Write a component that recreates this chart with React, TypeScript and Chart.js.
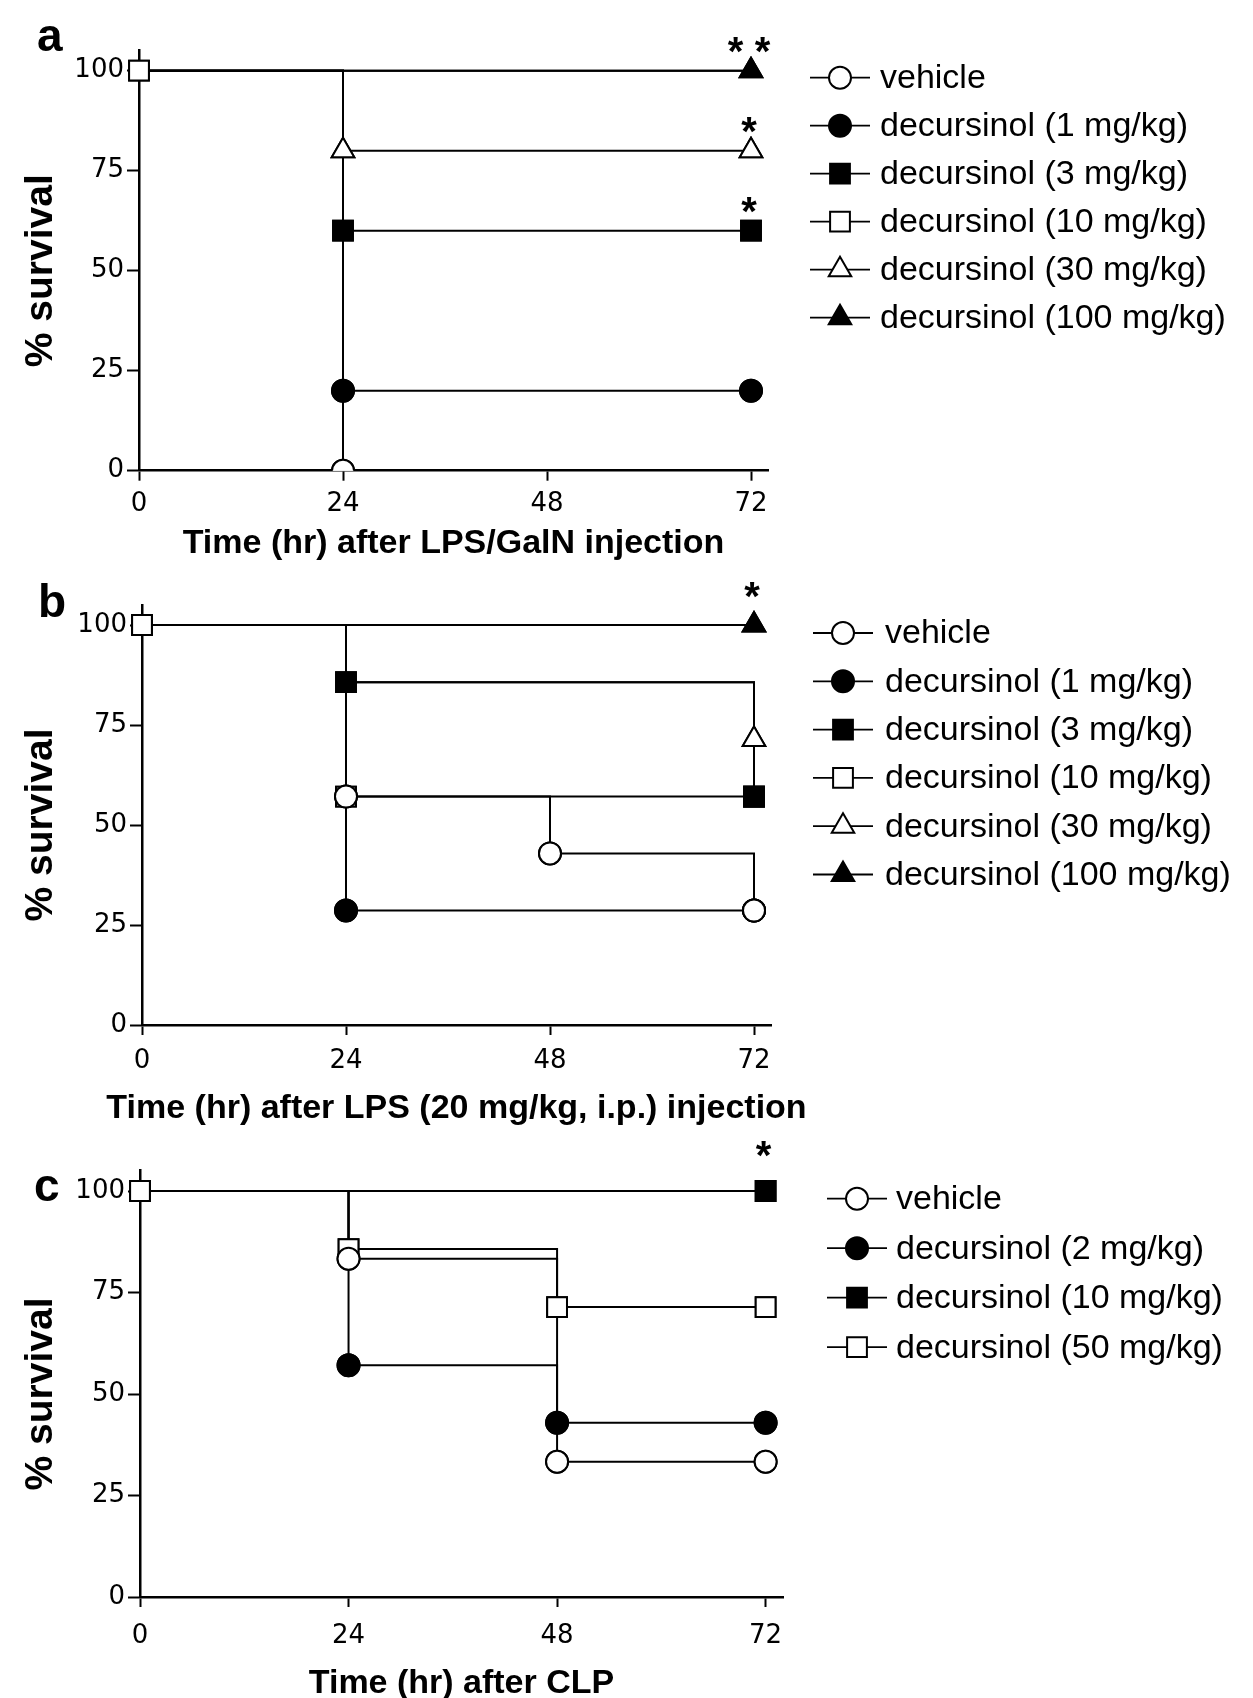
import React, { useEffect, useRef } from 'react';
import { Chart, registerables } from 'chart.js';

Chart.register(...registerables);

const FONT = '"Liberation Sans", Arial, Helvetica, sans-serif';
const TICK_FONT = '"DejaVu Sans", "Liberation Sans", Arial, sans-serif';

// ---------- shared axis data ----------
const TIME_TICKS = [0, 24, 48, 72];
const SURVIVAL_TICKS = [0, 25, 50, 75, 100];
const TIME_MAX = 74;
const SURVIVAL_MAX = 105;

// ---------- panel a : LPS/GalN ----------
const A_NAMES = [
  'vehicle',
  'decursinol (1 mg/kg)',
  'decursinol (3 mg/kg)',
  'decursinol (10 mg/kg)',
  'decursinol (30 mg/kg)',
  'decursinol (100 mg/kg)',
];
const A_VEHICLE = [[0, 100], [24, 0]];
const A_DEC1 = [[0, 100], [24, 20], [72, 20]];
const A_DEC3 = [[0, 100], [24, 60], [72, 60]];
const A_DEC10 = [[0, 100], [72, 100]];
const A_DEC30 = [[0, 100], [24, 80], [72, 80]];
const A_DEC100 = [[0, 100], [72, 100]];
const A_STARS: [number, number, string][] = [[72, 100, '**'], [72, 80, '*'], [72, 60, '*']];
// markers that are covered by another series' marker in the original
const A_HIDDEN: [number, number][] = [[3, 72]];

// ---------- panel b : LPS 20 mg/kg ----------
const B_NAMES = [
  'vehicle',
  'decursinol (1 mg/kg)',
  'decursinol (3 mg/kg)',
  'decursinol (10 mg/kg)',
  'decursinol (30 mg/kg)',
  'decursinol (100 mg/kg)',
];
const B_VEHICLE = [[0, 100], [24, 57.1], [48, 42.9], [72, 28.6]];
const B_DEC1 = [[0, 100], [24, 28.6], [72, 28.6]];
const B_DEC3 = [[0, 100], [24, 85.7], [72, 57.1]];
const B_DEC10 = [[0, 100], [24, 57.1], [72, 57.1]];
const B_DEC30 = [[0, 100], [24, 85.7], [72, 71.4]];
const B_DEC100 = [[0, 100], [72, 100]];
const B_STARS: [number, number, string][] = [[72, 100, '*']];
const B_HIDDEN: [number, number][] = [[4, 24]];

// ---------- panel c : CLP ----------
const C_NAMES = [
  'vehicle',
  'decursinol (2 mg/kg)',
  'decursinol (10 mg/kg)',
  'decursinol (50 mg/kg)',
];
const C_VEHICLE = [[0, 100], [24, 83.3], [48, 33.3], [72, 33.3]];
const C_DEC2 = [[0, 100], [24, 57.1], [48, 42.9], [72, 42.9]];
const C_DEC10 = [[0, 100], [72, 100]];
const C_DEC50 = [[0, 100], [24, 85.7], [48, 71.4], [72, 71.4]];
const C_STARS: [number, number, string][] = [[72, 100, '*']];
const C_HIDDEN: [number, number][] = [];

// ---------- marker styles ----------
type MarkerKey = 'openCircle' | 'filledCircle' | 'filledSquare' | 'openSquare' | 'openTriangle' | 'filledTriangle';
const MARKERS: Record<MarkerKey, { style: 'circle' | 'rect' | 'triangle'; fill: string; r: number }> = {
  openCircle: { style: 'circle', fill: '#ffffff', r: 11 },
  filledCircle: { style: 'circle', fill: '#000000', r: 11 },
  filledSquare: { style: 'rect', fill: '#000000', r: 14 },
  openSquare: { style: 'rect', fill: '#ffffff', r: 14 },
  openTriangle: { style: 'triangle', fill: '#ffffff', r: 13 },
  filledTriangle: { style: 'triangle', fill: '#000000', r: 13 },
};

interface PanelDef {
  letter: string;
  xTitle: string;
  names: string[];
  series: number[][][];
  markers: MarkerKey[];
  stack: number[];
  startMarker: number;
  hidden: [number, number][];
  stars: [number, number, string][];
  top: number;
  height: number;
  plotLeft: number;
  plotRight: number;
  plotTop: number;
  plotBottom: number;
  letterX: number;
  letterY: number;
  xTitleGap: number;
  xTickPad: number;
  starGap: number;
  legendDx: number;
  legendDy: number;
  legendStep: number;
  legendTextDx: number;
}

const PANELS: PanelDef[] = [
  {
    letter: 'a',
    xTitle: 'Time (hr) after LPS/GalN injection',
    names: A_NAMES,
    series: [A_VEHICLE, A_DEC1, A_DEC3, A_DEC10, A_DEC30, A_DEC100],
    markers: ['openCircle', 'filledCircle', 'filledSquare', 'openSquare', 'openTriangle', 'filledTriangle'],
    stack: [0, 1, 2, 5, 3, 4],
    startMarker: 3,
    hidden: A_HIDDEN,
    stars: A_STARS,
    top: 0,
    height: 565,
    plotLeft: 139,
    plotRight: 768,
    plotTop: 50.7,
    plotBottom: 470.7,
    letterX: 37,
    letterY: 51,
    xTitleGap: 73,
    xTickPad: 8,
    starGap: -29,
    legendDx: 42,
    legendDy: 27,
    legendStep: 48,
    legendTextDx: 70,
  },
  {
    letter: 'b',
    xTitle: 'Time (hr) after LPS (20 mg/kg, i.p.) injection',
    names: B_NAMES,
    series: [B_VEHICLE, B_DEC1, B_DEC3, B_DEC10, B_DEC30, B_DEC100],
    markers: ['openCircle', 'filledCircle', 'filledSquare', 'openSquare', 'openTriangle', 'filledTriangle'],
    stack: [0, 2, 1, 3, 4, 5],
    startMarker: 3,
    hidden: B_HIDDEN,
    stars: B_STARS,
    top: 565,
    height: 560,
    plotLeft: 142,
    plotRight: 771,
    plotTop: 40,
    plotBottom: 460,
    letterX: 38,
    letterY: 52,
    xTitleGap: 84,
    xTickPad: 11,
    starGap: -38,
    legendDx: 42,
    legendDy: 28,
    legendStep: 48.3,
    legendTextDx: 72,
  },
  {
    letter: 'c',
    xTitle: 'Time (hr) after CLP',
    names: C_NAMES,
    series: [C_VEHICLE, C_DEC2, C_DEC10, C_DEC50],
    markers: ['openCircle', 'filledCircle', 'filledSquare', 'openSquare'],
    stack: [0, 1, 2, 3],
    startMarker: 3,
    hidden: C_HIDDEN,
    stars: C_STARS,
    top: 1125,
    height: 573,
    plotLeft: 140,
    plotRight: 783,
    plotTop: 45.7,
    plotBottom: 472,
    letterX: 34,
    letterY: 76,
    xTitleGap: 87,
    xTickPad: 14,
    starGap: -45,
    legendDx: 44,
    legendDy: 28,
    legendStep: 49.5,
    legendTextDx: 69,
  },
];

function drawMarker(ctx: CanvasRenderingContext2D, key: MarkerKey, x: number, y: number) {
  const m = MARKERS[key];
  ctx.beginPath();
  if (m.style === 'circle') {
    ctx.arc(x, y, m.r, 0, Math.PI * 2);
  } else if (m.style === 'rect') {
    const h = m.r * Math.SQRT1_2;
    ctx.rect(x - h, y - h, 2 * h, 2 * h);
  } else {
    let rad = 0;
    ctx.moveTo(x + Math.sin(rad) * m.r, y - Math.cos(rad) * m.r);
    rad += (2 * Math.PI) / 3;
    ctx.lineTo(x + Math.sin(rad) * m.r, y - Math.cos(rad) * m.r);
    rad += (2 * Math.PI) / 3;
    ctx.lineTo(x + Math.sin(rad) * m.r, y - Math.cos(rad) * m.r);
    ctx.closePath();
  }
  ctx.fillStyle = m.fill;
  ctx.fill();
  ctx.lineWidth = 2;
  ctx.strokeStyle = '#000';
  ctx.stroke();
}

function PanelChart({ def }: { def: PanelDef }) {
  const ref = useRef<HTMLCanvasElement>(null);

  useEffect(() => {
    const canvas = ref.current;
    if (!canvas) return;

    const datasets = def.series.map((pts, i) => {
      const key = def.markers[i];
      const m = MARKERS[key];
      const showStart = i === def.startMarker;
      const hiddenTimes = def.hidden.filter(([s]) => s === i).map(([, t]) => t);
      const radius = (c: any) => {
        const idx = c.dataIndex;
        if (idx === 0 && !showStart) return 0;
        const p = pts[idx];
        if (p && hiddenTimes.includes(p[0])) return 0;
        return m.r;
      };
      return {
        label: def.names[i],
        data: pts.map(([t, s]) => ({ x: t, y: s })),
        stepped: 'before' as const,
        borderColor: '#000',
        borderWidth: 2,
        fill: false,
        tension: 0,
        pointStyle: m.style,
        pointBackgroundColor: m.fill,
        pointBorderColor: '#000',
        pointBorderWidth: 2,
        pointRadius: radius,
        pointHoverRadius: radius,
        order: def.stack[i],
        clip: { left: 40, top: 40, right: 40, bottom: 0 },
      };
    });

    const overlay = {
      id: 'overlay' + def.letter,
      afterDatasetsDraw(chart: any) {
        const ctx: CanvasRenderingContext2D = chart.ctx;
        const area = chart.chartArea;
        ctx.save();
        ctx.beginPath();
        ctx.rect(0, 0, chart.width, area.bottom);
        ctx.clip();
        const metas = chart.getSortedVisibleDatasetMetas();
        const big = { left: -1e5, top: -1e5, right: 1e5, bottom: 1e5 };
        for (let i = metas.length - 1; i >= 0; i--) {
          metas[i].data.forEach((el: any) => el.draw(ctx, big));
        }
        ctx.restore();
      },
      afterDraw(chart: any) {
        const ctx: CanvasRenderingContext2D = chart.ctx;
        const area = chart.chartArea;
        const xs = chart.scales.x;
        const ys = chart.scales.y;
        ctx.save();
        ctx.fillStyle = '#000';

        // panel letter
        ctx.font = `bold 46px ${FONT}`;
        ctx.textAlign = 'left';
        ctx.textBaseline = 'alphabetic';
        ctx.fillText(def.letter, def.letterX, def.letterY);

        // x title
        ctx.font = `bold 34px ${FONT}`;
        ctx.textAlign = 'center';
        ctx.textBaseline = 'middle';
        ctx.fillText(def.xTitle, (area.left + area.right) / 2, area.bottom + def.xTitleGap);

        // y title
        ctx.save();
        ctx.translate(41, ys.getPixelForValue(50));
        ctx.rotate(-Math.PI / 2);
        ctx.font = `bold 39px ${FONT}`;
        ctx.textAlign = 'center';
        ctx.textBaseline = 'middle';
        ctx.fillText('% survival', 0, 0);
        ctx.restore();

        // significance stars
        ctx.font = `bold 40px ${FONT}`;
        ctx.textAlign = 'center';
        ctx.textBaseline = 'alphabetic';
        def.stars.forEach(([t, s, mark]) => {
          const px = xs.getPixelForValue(t) - 2;
          const py = ys.getPixelForValue(s) + def.starGap;
          const n = mark.length;
          for (let k = 0; k < n; k++) {
            ctx.fillText('*', px + (k - (n - 1) / 2) * 27, py + 23);
          }
        });

        // legend
        const x0 = area.right + def.legendDx;
        def.names.forEach((name, i) => {
          const y = area.top + def.legendDy + i * def.legendStep;
          ctx.beginPath();
          ctx.moveTo(x0, y);
          ctx.lineTo(x0 + 60, y);
          ctx.lineWidth = 1.8;
          ctx.strokeStyle = '#000';
          ctx.stroke();
          drawMarker(ctx, def.markers[i], x0 + 30, y);
          ctx.fillStyle = '#000';
          ctx.font = `34px ${FONT}`;
          ctx.textAlign = 'left';
          ctx.textBaseline = 'middle';
          ctx.fillText(name, x0 + def.legendTextDx, y + 1);
        });

        ctx.restore();
      },
    };

    const axisCommon = {
      type: 'linear' as const,
      z: 1,
      border: { display: true, color: '#000', width: 2.5 },
    };

    const chart = new Chart(canvas, {
      type: 'line',
      data: { datasets: datasets as any },
      options: {
        responsive: false,
        animation: false,
        devicePixelRatio: 1,
        events: [],
        layout: {
          padding: {
            left: 0,
            top: def.plotTop,
            right: 1253 - def.plotRight,
            bottom: 0,
          },
        },
        plugins: {
          legend: { display: false },
          tooltip: { enabled: false },
          title: { display: false },
        },
        scales: {
          x: {
            ...axisCommon,
            min: 0,
            max: TIME_MAX,
            afterBuildTicks: (s: any) => {
              s.ticks = TIME_TICKS.map((v) => ({ value: v }));
            },
            afterFit: (s: any) => {
              s.height = def.height - def.plotBottom;
            },
            grid: {
              drawOnChartArea: false,
              drawTicks: true,
              tickLength: 10,
              tickWidth: 2,
              tickColor: '#000',
              color: '#000',
            },
            ticks: {
              color: '#000',
              font: { family: TICK_FONT, size: 26 },
              padding: def.xTickPad,
              maxRotation: 0,
              autoSkip: false,
            },
          },
          y: {
            ...axisCommon,
            min: 0,
            max: SURVIVAL_MAX,
            afterBuildTicks: (s: any) => {
              s.ticks = SURVIVAL_TICKS.map((v) => ({ value: v }));
            },
            afterFit: (s: any) => {
              s.width = def.plotLeft;
            },
            grid: {
              drawOnChartArea: false,
              drawTicks: true,
              tickLength: 12,
              tickWidth: 2,
              tickColor: '#000',
              color: '#000',
            },
            ticks: {
              color: '#000',
              font: { family: TICK_FONT, size: 26 },
              padding: 3,
              autoSkip: false,
            },
          },
        },
      } as any,
      plugins: [overlay as any],
    });

    return () => {
      chart.destroy();
    };
  }, [def]);

  return (
    <canvas
      ref={ref}
      width={1253}
      height={def.height}
      style={{
        position: 'absolute',
        left: 0,
        top: def.top,
        width: 1253,
        height: def.height,
        display: 'block',
      }}
    />
  );
}

export default function App() {
  return (
    <div
      style={{
        position: 'absolute',
        left: 0,
        top: 0,
        width: 1253,
        height: 1698,
        background: '#ffffff',
        overflow: 'hidden',
      }}
    >
      {PANELS.map((p) => (
        <PanelChart key={p.letter} def={p} />
      ))}
    </div>
  );
}
